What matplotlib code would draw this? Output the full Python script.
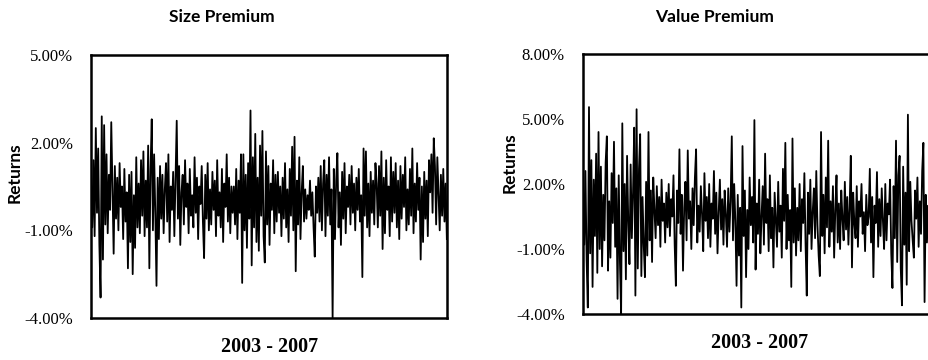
import numpy as np
import matplotlib.pyplot as plt

# daily returns in %, one list per year-ish chunk
size_2003 = [0.6, -0.9, 1.4, -1.2, 2.5, -0.4, 1.8, -1.5, -3.3, 2.9, -2.0, 2.6, -0.8, 1.6, -1.1, 0.9, -0.3, 2.7, 0.4, -1.8,
             1.2, -0.6, 0.8, -1.0, 1.3, -0.2, 0.5, -1.3, 1.1, -0.7, 0.3, -2.3, 0.9, -1.4, 1.0, -2.5, 0.2, -1.6, 1.5, -0.9,
             0.6, -1.1, 1.4, -0.5, 1.7, -1.2, 0.7, -0.9, 1.9, -2.3, 1.1, 2.8, -1.0, 1.6, -0.4, -2.9, 0.8, -1.3, 1.2, -0.6]
size_2004 = [0.9, -1.1, 0.4, 1.3, -0.7, 1.6, -1.4, 0.5, -0.3, 1.0, -1.2, 0.7, 2.75, -0.6, 1.2, -1.5, 0.3, 0.9, -0.8, 1.4,
             -0.2, 0.6, -1.1, 1.1, -0.5, 0.2, -0.9, 1.5, -0.4, 0.8, -1.3, 0.5, -0.1, 1.2, -0.7, -1.95, 0.9, -0.6, 1.3, -1.0,
             0.4, -0.8, 1.0, -0.3, 0.7, -1.2, 1.4, -0.5, 0.3, -0.9, 1.1, -1.4, 0.6, -0.2, 1.6, -0.7, 0.8, -1.1, 0.5, -0.4]
size_2005 = [0.5, -0.8, 1.1, -1.3, 0.7, -0.4, 1.6, -2.8, 1.6, -1.0, 0.9, -1.6, 1.3, -0.6, 3.1, -2.2, 1.5, -0.9, 2.3, -1.4,
             0.8, -1.7, 1.9, -0.5, 2.4, -1.2, -2.1, 1.7, -0.8, 1.2, -1.5, 0.6, -0.3, 1.4, -1.1, 0.9, -0.7, 1.0, -0.4, 0.5,
             -1.2, 0.8, -0.6, 1.3, -0.9, 0.4, -1.4, 1.1, -0.5, 1.86, -1.0, 2.2, -2.4, 0.7, -0.8, 1.5, -1.3, 0.3, 1.2, -0.7]
size_2006 = [0.4, -0.6, 0.2, -0.3, 0.7, -0.5, 0.3, -0.9, -1.9, 0.5, -0.4, 0.8, -0.7, 1.2, -1.0, 0.6, 1.4, -1.2, 0.9, -0.5,
             1.5, -0.8, 0.4, -4.0, 1.1, -1.3, 0.7, 1.64, -0.9, 0.3, -1.5, 1.0, -0.6, 1.3, -1.1, 0.5, -0.2, 0.9, -0.8, 1.2,
             -0.4, 0.6, -1.0, 0.8, -0.3, 1.1, -0.7, 0.2, -2.6, 1.8, -0.5, 1.7, -0.9, 0.6, -1.2, 1.0, -0.4, 0.7, -0.8, 1.3]
size_2007 = [0.6, -0.9, 1.2, -0.5, 1.7, -1.64, 0.8, -1.1, 1.4, -0.3, 0.5, -1.2, 1.5, -0.7, 1.0, -0.4, 1.3, -0.9, 0.7, -1.3,
             1.2, -0.6, 0.9, -0.2, 1.5, -1.0, 0.4, -0.8, 1.1, -0.5, 1.8, -1.1, 0.6, -0.7, 1.3, -0.3, 0.8, -2.0, 0.5, -1.4,
             1.0, -0.6, 0.7, -1.2, 1.4, 0.3, 1.6, -0.4, 2.15, 1.2, -0.8, 1.5, 0.2, -1.0, 0.9, -0.5, 1.1, -0.7, 0.6, -1.3]

value_2003 = [1.9, -0.8, 2.6, -1.5, -3.7, 5.55, -1.2, 3.1, -2.75, 2.2, -0.4, 3.4, -2.1, 4.4, -1.0, 2.8, -1.8, 1.5, -0.6, 3.0,
              4.2, -2.0, 1.2, -1.4, 2.5, 0.2, 3.95, -0.9, 1.8, -3.3, 2.4, -1.6, -4.0, 4.8, -1.1, 2.0, -2.4, 3.3, 0.3, -1.7,
              2.9, -0.5, 1.6, 4.6, -3.15, 5.45, -1.9, 2.7, 4.3, -2.25, 1.4, -0.8, -2.3, 2.1, -1.3, 4.4, -0.6, 1.7, -1.6, 2.3]
value_2004 = [0.8, -0.5, 1.9, 0.1, 1.4, -0.9, 2.2, 0.3, 1.1, -0.7, 1.6, 0.0, 2.0, -0.4, 1.3, 0.5, 2.4, -0.8, -2.7, 1.7,
              0.2, 3.6, -0.3, 1.5, -2.0, 0.9, 2.1, -0.6, 3.55, 0.4, 1.2, -1.0, 1.8, 0.1, 2.3, 3.6, -0.7, 1.0, -0.2, 1.9,
              0.6, -1.1, 2.5, 0.3, 1.4, -0.5, 2.0, -0.9, 1.1, 0.4, 2.6, -0.3, 1.6, -1.2, 0.7, 2.2, -0.1, 1.3, -0.8, 1.7]
value_2005 = [0.6, -0.9, 1.8, -0.2, 1.2, 4.2, -0.6, 2.0, 0.3, -2.7, 1.5, -1.3, 0.9, -3.7, 3.75, -0.4, 1.7, -2.3, 0.8, -1.0,
              2.3, 0.1, 1.4, -0.7, 4.95, -1.95, 1.1, -0.3, 2.2, -1.2, 0.5, 1.9, -0.8, 3.4, 0.2, 1.3, -1.1, 2.4, -0.5, 0.9,
              -1.85, 1.6, 0.4, -0.9, 2.1, -0.2, 1.0, -1.4, 2.7, 0.3, 3.9, -1.0, 1.5, -0.6, 0.8, -2.75, 4.1, -0.7, 1.8, -1.3]
value_2006 = [0.9, -0.6, 2.0, -1.1, 1.3, 0.2, 2.5, -0.8, -3.15, 1.6, -0.3, 2.2, -1.0, 0.7, 1.8, -0.5, 2.6, 0.1, -1.3, -2.25,
              4.4, -0.4, 1.5, -1.2, 2.3, 0.0, 4.0, -0.9, 1.2, -0.2, 1.9, -1.4, 0.8, 2.4, -0.7, 1.1, -1.0, 1.7, 0.4, -0.6,
              2.1, -0.1, 1.4, -0.8, 0.9, 3.3, -1.85, 1.6, 0.2, -0.5, 1.9, -0.9, 1.2, 0.5, 2.0, -0.3, 0.7, -1.1, 1.5, 0.1]
value_2007 = [0.5, 2.7, -0.7, 1.4, -2.3, 1.0, 0.2, 2.55, -0.9, 1.3, -0.4, 1.8, 0.3, -1.0, 2.0, -0.6, 1.1, 0.6, 2.2, -1.2,
              -2.8, 1.9, -0.5, 4.0, -1.6, 2.4, 3.3, -1.9, -3.6, 2.8, -0.8, 1.6, -2.65, 5.2, -1.1, 2.1, 0.3, -0.6, -1.4, 1.7,
              0.4, 2.3, -0.9, 1.2, -0.3, 2.6, 3.9, -3.45, 1.5, -0.7, 1.0, 0.2, -1.2, 1.8, -0.4, 0.9, 1.4, -0.8, 0.6, 1.1]

size_ticks = [-4, -1, 2, 5]
value_ticks = [-4, -1, 2, 5, 8]

size = size_2003 + size_2004 + size_2005 + size_2006 + size_2007
value = value_2003 + value_2004 + value_2005 + value_2006 + value_2007

serif = 'Liberation Serif'
sans = 'Lato'

fig = plt.figure(figsize=(9.29, 3.6), dpi=100)

#left panel
ax1 = fig.add_axes([0.098, 0.1167, 0.383, 0.7306])
ax1.plot(np.arange(len(size)), size, color='black', lw=1.3)
ax1.set_xlim(0, len(size) - 1)
ax1.set_ylim(-4, 5)

#right panel - runs off the right edge like the original
ax2 = fig.add_axes([0.6276, 0.1278, 0.383, 0.7222])
ax2.plot(np.arange(len(value)), value, color='black', lw=1.3)
ax2.set_xlim(0, len(value) - 1)
ax2.set_ylim(-4, 8)

for ax, ticks in [(ax1, size_ticks), (ax2, value_ticks)]:
    ax.set_xticks([])
    ax.set_yticks(ticks)
    ax.set_yticklabels([f'{t:.2f}%' for t in ticks], family=serif, fontsize=12)
    ax.tick_params(axis='y', length=0, pad=13)
    for s in ax.spines.values():
        s.set_linewidth(1.8)

fig.text(222 / 929, 1 - 17 / 360, 'Size Premium', ha='center', va='center', family=sans, weight='bold', fontsize=12.5)
fig.text(715 / 929, 1 - 17 / 360, 'Value Premium', ha='center', va='center', family=sans, weight='bold', fontsize=12.5)
fig.text(270 / 929, 1 - 347 / 360, '2003 - 2007', ha='center', va='center', family=serif, weight='bold', fontsize=14.5)
fig.text(760 / 929, 1 - 343 / 360, '2003 - 2007', ha='center', va='center', family=serif, weight='bold', fontsize=14.5)
fig.text(15 / 929, 1 - 173 / 360, 'Returns', ha='center', va='center', rotation=90, family=sans, weight='bold', fontsize=12.5)
fig.text(510 / 929, 1 - 163 / 360, 'Returns', ha='center', va='center', rotation=90, family=sans, weight='bold', fontsize=12.5)

fig.savefig('out.png', dpi=100)
